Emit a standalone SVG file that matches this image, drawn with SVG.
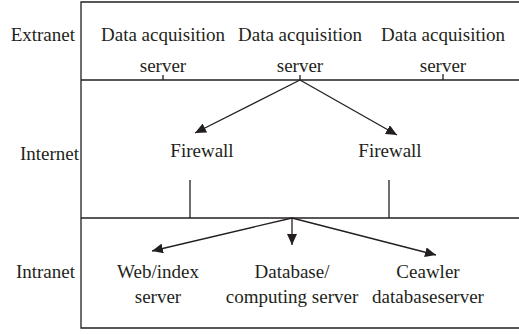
<svg xmlns="http://www.w3.org/2000/svg" width="519" height="334" viewBox="0 0 519 334">
<style>
.t{font-family:"Liberation Serif","Times New Roman",serif;font-size:19px;fill:#231f20;text-anchor:middle}
.l{text-anchor:end}
.ln{stroke:#231f20;stroke-width:1.3;fill:none}
</style>
<defs>
<marker id="ah" markerWidth="12" markerHeight="10" refX="11" refY="5" orient="auto" markerUnits="userSpaceOnUse">
<path d="M0,0 L11,5 L0,10 Z" fill="#231f20"/>
</marker>
</defs>
<rect width="519" height="334" fill="#fff"/>
<g id="frame" class="ln">
<path d="M519,2 H81 V328 H519"/>
<path d="M81,80 H519"/>
<path d="M81,218 H519"/>
</g>
<g id="zone-labels">
<text class="t l" x="75" y="41">Extranet</text>
<text class="t l" x="79" y="160">Internet</text>
<text class="t l" x="75" y="278">Intranet</text>
</g>
<g id="das1"><text class="t" x="163" y="41">Data acquisition</text><text class="t" x="163" y="72">server</text></g>
<g id="das2"><text class="t" x="300" y="41">Data acquisition</text><text class="t" x="300" y="72">server</text></g>
<g id="das3"><text class="t" x="443" y="41">Data acquisition</text><text class="t" x="443" y="72">server</text></g>
<g id="fw1"><text class="t" x="202" y="157">Firewall</text></g>
<g id="fw2"><text class="t" x="390" y="157">Firewall</text></g>
<g id="web"><text class="t" x="158" y="278">Web/index</text><text class="t" x="158" y="303">server</text></g>
<g id="db"><text class="t" x="292" y="278">Database/</text><text class="t" x="292" y="303">computing server</text></g>
<g id="crawler"><text class="t" x="428" y="278">Ceawler</text><text class="t" x="428" y="303">databaseserver</text></g>
<g id="connectors" class="ln">
<path d="M163,75 V80 M300,75 V80 M443,74 V80"/>
<path d="M300,80 L195,133" marker-end="url(#ah)"/>
<path d="M300,80 L397,135" marker-end="url(#ah)"/>
<path d="M190,180 V218 M389,180 V218"/>
<path d="M292,218 L152,251" marker-end="url(#ah)"/>
<path d="M292,218 L292,245" marker-end="url(#ah)"/>
<path d="M292,218 L436,255" marker-end="url(#ah)"/>
</g>
</svg>
